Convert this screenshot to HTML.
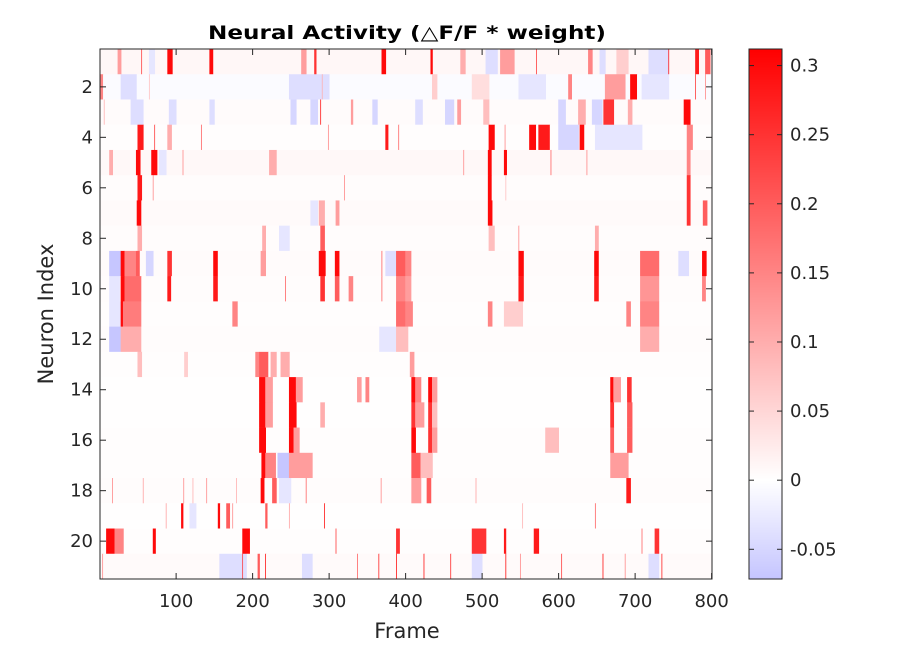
<!DOCTYPE html>
<html><head><meta charset="utf-8">
<style>
html,body{margin:0;padding:0;background:#fff;}
body{width:900px;height:652px;position:relative;overflow:hidden;font-family:"DejaVu Sans","Liberation Sans",sans-serif;}
svg text{fill:#262626;font-family:"DejaVu Sans","Liberation Sans",sans-serif;}
</style></head>
<body>
<svg id="fig" width="900" height="652" xmlns="http://www.w3.org/2000/svg" style="position:absolute;left:0;top:0">
<text x="407" y="39" text-anchor="middle" font-size="19" font-weight="bold" textLength="398" lengthAdjust="spacingAndGlyphs" style="fill:#000">Neural Activity (△F/F * weight)</text>
<g id="heat"></g>
<g id="axes"></g>
<g id="cbar"></g>
<text x="407" y="638" text-anchor="middle" font-size="21">Frame</text>
<text transform="translate(53,314) rotate(-90)" text-anchor="middle" font-size="21">Neuron Index</text>
</svg>
<script>
// ---- data ----
const nFrames = 800;
const neurons = [1,2,3,4,5,6,7,8,9,10,11,12,13,14,15,16,17,18,19,20,21];
// events per neuron: [startFrame, endFrame, value]
const ev1 = [[24,28,.12],[65,72,-.03],[55,55,.25],[89,95,.3],[144,148,.3],[264,270,.12],[281,283,.25],[369,374,.3],[433,435,.3],[472,478,.1],[505,520,-.04],[524,542,.12],[571,571,.25],[639,644,.15],[654,661,-.04],[676,691,.06],[718,744,-.04],[744,744,.3],[779,783,.28],[792,798,.2]];
const ev2 = [[0,4,.15],[28,48,-.04],[65,65,.08],[248,300,-.04],[291,291,.1],[435,441,.06],[487,509,.04],[548,583,-.03],[613,617,.15],[661,687,.12],[694,702,.3],[709,744,-.03],[779,779,.25],[792,792,.15]];
const ev3 = [[6,6,.1],[41,57,-.04],[91,100,-.04],[144,150,-.04],[250,257,-.05],[276,285,-.05],[289,289,.3],[329,331,.12],[357,363,-.05],[413,422,-.04],[452,463,-.05],[468,472,.12],[502,509,.08],[600,609,-.05],[626,635,.1],[644,657,-.05],[659,672,.25],[691,696,.1],[764,772,.3]];
const ev4 = [[50,57,.28],[72,72,.25],[89,94,.1],[133,133,.2],[299,299,.15],[374,377,.28],[391,391,.2],[509,516,.3],[530,530,.15],[562,570,.3],[574,588,.28],[600,626,-.05],[628,633,.3],[648,709,-.03],[768,775,.15]];
const ev5 = [[13,17,.1],[48,53,.3],[68,75,.3],[78,87,-.03],[109,109,.15],[222,231,.1],[476,476,.15],[508,512,.3],[529,532,.3],[590,590,.2],[637,637,.15],[768,772,.15]];
const ev6 = [[50,55,.28],[70,70,.15],[320,320,.15],[508,512,.3],[531,531,.08],[768,772,.25]];
const ev7 = [[49,54,.3],[276,285,-.03],[287,294,.1],[309,313,.12],[508,513,.3],[768,772,.25],[789,794,.2]];
const ev8 = [[50,55,.1],[213,217,.1],[235,248,-.03],[289,294,.2],[509,516,.08],[548,548,.15],[648,652,.1]];
const ev9 = [[13,27,-.07],[28,33,.3],[33,48,.15],[48,52,.2],[61,70,-.05],[89,94,.25],[149,154,.3],[211,217,.12],[287,295,.3],[308,313,.3],[369,369,.2],[374,387,-.04],[388,403,.2],[400,407,.15],[548,554,.3],[647,652,.3],[707,731,.18],[757,770,-.04],[788,793,.3]];
const ev10 = [[13,26,-.03],[28,33,.3],[33,54,.18],[89,93,.28],[149,154,.28],[243,243,.2],[289,294,.25],[308,313,.2],[326,331,.15],[369,369,.2],[388,403,.15],[400,407,.12],[548,554,.28],[647,652,.28],[707,731,.13],[788,792,.15]];
const ev11 = [[13,27,-.03],[28,54,.16],[28,30,.3],[174,180,.15],[388,403,.18],[400,409,.15],[508,513,.15],[529,553,.06],[689,694,.15],[707,731,.15]];
const ev12 = [[13,28,-.07],[28,54,.1],[366,387,-.03],[388,403,.08],[707,731,.1]];
const ev13 = [[50,55,.08],[111,115,.06],[204,209,.15],[209,220,.2],[224,231,.1],[237,248,.1],[406,411,.12]];
const ev14 = [[209,217,.3],[217,226,.12],[248,257,.3],[257,265,.12],[337,342,.12],[348,352,.15],[408,413,.3],[413,420,.15],[430,435,.3],[435,441,.12],[668,672,.3],[672,681,.12],[690,695,.25]];
const ev15 = [[209,217,.3],[217,226,.12],[248,257,.3],[289,294,.1],[408,413,.25],[413,424,.12],[430,435,.25],[435,441,.08],[668,672,.25],[690,696,.2]];
const ev16 = [[209,217,.3],[248,254,.3],[254,261,.12],[408,413,.3],[430,435,.25],[435,441,.12],[583,600,.08],[668,672,.2],[690,696,.2]];
const ev17 = [[212,217,.3],[217,230,.15],[233,248,-.07],[248,278,.12],[408,420,.2],[420,435,.08],[668,691,.12]];
const ev18 = [[17,17,.15],[57,57,.12],[110,110,.15],[122,122,.1],[140,140,.15],[179,179,.1],[211,215,.3],[226,231,.2],[235,250,-.03],[270,270,.2],[368,368,.15],[408,420,.12],[428,433,.2],[492,492,.12],[689,694,.28]];
const ev19 = [[87,87,.12],[107,109,.3],[118,126,-.03],[155,157,.3],[166,170,.2],[174,174,.15],[217,219,.2],[248,248,.12],[294,294,.3],[553,553,.1],[648,648,.2]];
const ev20 = [[9,20,.3],[20,31,.15],[70,73,.3],[187,196,.3],[309,309,.25],[388,392,.25],[487,505,.25],[529,531,.28],[568,574,.28],[709,709,.2],[726,731,.25]];
const ev21 = [[4,4,.15],[157,192,-.04],[187,187,.25],[207,209,.2],[217,217,.3],[265,278,-.04],[337,337,.2],[365,365,.28],[388,388,.3],[424,424,.3],[459,459,.28],[487,500,-.04],[531,531,.3],[550,550,.15],[604,604,.25],[658,658,.3],[687,687,.15],[718,731,-.04],[735,735,.28]];
const events = [ev1,ev2,ev3,ev4,ev5,ev6,ev7,ev8,ev9,ev10,ev11,ev12,ev13,ev14,ev15,ev16,ev17,ev18,ev19,ev20,ev21];
// faint per-neuron background level
const baseline = [.01,-.005,.005,.003,.008,.004,.006,.004,.005,.004,.003,.004,.002,.001,.001,.002,.002,.004,.001,.002,.006];
const xTicks = [100,200,300,400,500,600,700,800];
const yTicks = [2,4,6,8,10,12,14,16,18,20];
const cbTicks = [-0.05,0,0.05,0.1,0.15,0.2,0.25,0.3];
const cbTickLabels = ["-0.05","0","0.05","0.1","0.15","0.2","0.25","0.3"];
const cMin = -0.0715, cMax = 0.312;

// ---- geometry ----
const L=100,R=712,T=49,B=579;
const xS = f => L + (f-0.5)*(R-L)/nFrames;
const yS = n => T + (n-0.5)*(B-T)/neurons.length;
const cbL=749,cbR=782;
const cS = v => B - (v-cMin)/(cMax-cMin)*(B-T);
function color(v){
  const a=Math.min(1,Math.abs(v)/cMax);
  const c=Math.round(255*(1-a));
  return v>=0?`rgb(255,${c},${c})`:`rgb(${c},${c},255)`;
}
const NS="http://www.w3.org/2000/svg";
function mk(tag,attrs,parent){const e=document.createElementNS(NS,tag);for(const k in attrs)e.setAttribute(k,attrs[k]);parent.appendChild(e);return e;}

// ---- heatmap ----
const heat=document.getElementById('heat');
const rowH=(B-T)/neurons.length, colW=(R-L)/nFrames;
neurons.forEach((n,i)=>{
  const vals=new Array(nFrames).fill(baseline[i]);
  events[i].forEach(([s,e,v])=>{for(let f=Math.max(1,s);f<=Math.min(nFrames,e);f++){vals[f-1]=v;}});
  let f=1;
  while(f<=nFrames){
    let g=f;while(g<nFrames&&vals[g]===vals[f-1])g++;
    const r=mk('rect',{x:xS(f-0.5),y:yS(n)-rowH/2,width:(g-f+1)*colW+0.3,height:rowH+0.3,fill:color(vals[f-1])},heat);
    
    
    f=g+1;
  }
});

// ---- axes ----
const ax=document.getElementById('axes');
mk('rect',{x:L,y:T,width:R-L,height:B-T,fill:'none',stroke:'#262626','stroke-width':1},ax);
xTicks.forEach(t=>{
  const x=xS(t);
  mk('line',{x1:x,x2:x,y1:B,y2:B-6,stroke:'#262626'},ax);
  mk('line',{x1:x,x2:x,y1:T,y2:T+6,stroke:'#262626'},ax);
  const tx=mk('text',{x:x,y:B+28,'text-anchor':'middle','font-size':18},ax);
  tx.textContent=t;
  
  
});
yTicks.forEach(t=>{
  const y=yS(t);
  mk('line',{x1:L,x2:L+6,y1:y,y2:y,stroke:'#262626'},ax);
  mk('line',{x1:R,x2:R-6,y1:y,y2:y,stroke:'#262626'},ax);
  const tx=mk('text',{x:L-7,y:y+6,'text-anchor':'end','font-size':18},ax);
  tx.textContent=t;
  
  
});

// ---- colorbar ----
const cb=document.getElementById('cbar');
for(let y=T;y<B;y++){
  const v=cMax-(y-T+0.5)/(B-T)*(cMax-cMin);
  const r=mk('rect',{x:cbL,y:y,width:cbR-cbL,height:1.2,fill:color(v)},cb);
  
  
}
mk('rect',{x:cbL,y:T,width:cbR-cbL,height:B-T,fill:'none',stroke:'#262626'},cb);
cbTicks.forEach((t,i)=>{
  const y=cS(t);
  mk('line',{x1:cbR,x2:cbR-5,y1:y,y2:y,stroke:'#262626'},cb);
  mk('line',{x1:cbL,x2:cbL+5,y1:y,y2:y,stroke:'#262626'},cb);
  const tx=mk('text',{x:cbR+8,y:y+6,'font-size':18},cb);
  tx.textContent=cbTickLabels[i];
  
  
});
</script>
</body></html>
